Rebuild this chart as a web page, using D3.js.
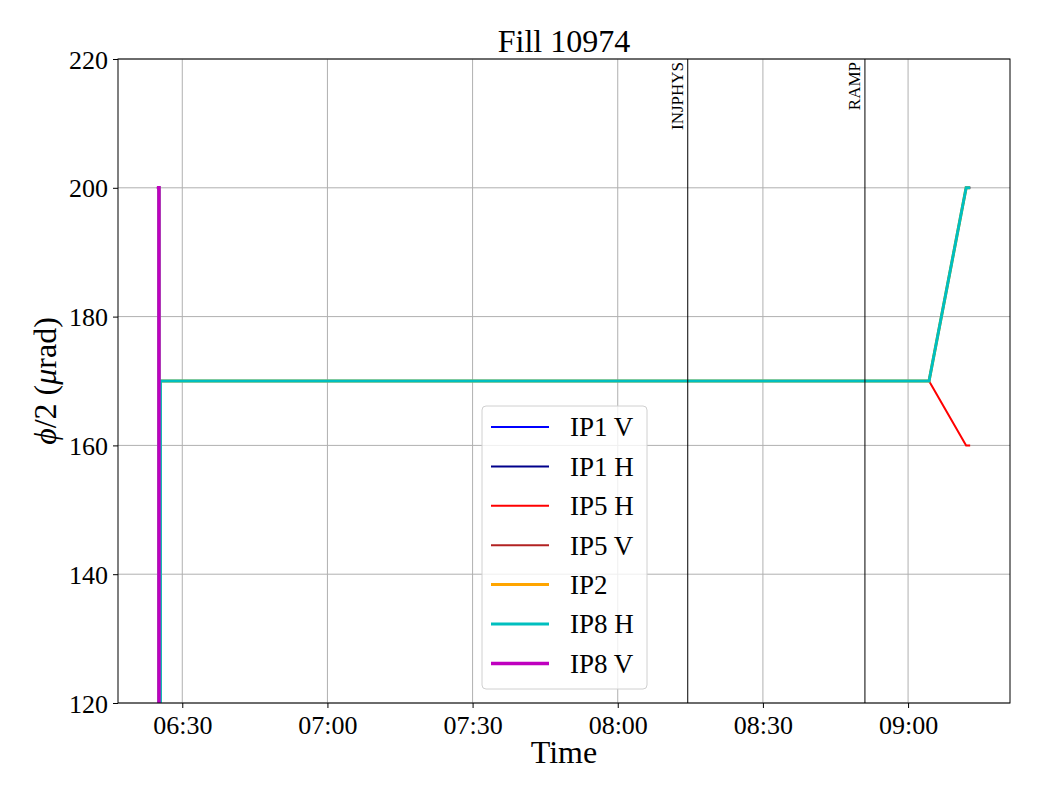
<!DOCTYPE html>
<html>
<head>
<meta charset="utf-8">
<script src="https://cdn.jsdelivr.net/npm/d3@7"></script>
<style>
  body { margin: 0; background: #fff; }
  svg text { font-family: "Liberation Serif", "Times New Roman", Times, serif; }
</style>
</head>
<body>
<div id="chart"></div>
<script>
// data
const times = ['06:24:46', '06:25:11', '06:25:11', '06:25:29', '06:25:29', '09:04:20', '09:12:00', '09:12:50']
const ip1V = [200, 200, 100, 100, 170, 170, 200, 200]
const ip1H = [200, 200, 100, 100, 170, 170, 200, 200]
const ip5H = [200, 200, 100, 100, 170, 170, 160, 160]
const ip5V = [200, 200, 100, 100, 170, 170, 200, 200]
const ip2 = [200, 200, 100, 100, 170, 170, 200, 200]
const ip8H = [200, 200, 100, 100, 170, 170, 200, 200]
const ip8V = [200, 200, 100, 100, 100, 100, 100, 100]

const seriesNames = ['IP1 V', 'IP1 H', 'IP5 H', 'IP5 V', 'IP2', 'IP8 H', 'IP8 V']
const seriesValues = [ip1V, ip1H, ip5H, ip5V, ip2, ip8H, ip8V]
const seriesColors = ['#0000ff', '#00008b', '#ff0000', '#b22222', '#ffa500', '#00bfbf', '#bf00bf']
const seriesWidths = [2, 2, 2, 2, 3, 3, 3.5]

const modeNames = ['INJPHYS', 'RAMP']
const modeTimes = ['08:14:28', '08:51:05']

const xDomain = ['06:16:43', '09:21:04']
const yDomain = [120, 220]
const yTicks = [120, 140, 160, 180, 200, 220]

const W = 1040, H = 800
const m = { left: 118, right: 1010, top: 59, bottom: 703 }
const parse = d3.timeParse('%H:%M:%S')
const FONT = '"Liberation Serif", "Times New Roman", Times, serif'

const x = d3.scaleTime().domain(xDomain.map(parse)).range([m.left, m.right])
const y = d3.scaleLinear().domain(yDomain).range([m.bottom, m.top])

const svg = d3.select('#chart').append('svg')
  .attr('width', W)
  .attr('height', H)
  .attr('font-family', FONT)

svg.append('defs').append('clipPath').attr('id', 'clip')
  .append('rect')
  .attr('x', m.left).attr('y', m.top)
  .attr('width', m.right - m.left).attr('height', m.bottom - m.top)

// grid
const xTicks = x.ticks(d3.timeMinute.every(30))
svg.append('g').selectAll('line').data(xTicks).join('line')
  .attr('x1', d => x(d)).attr('x2', d => x(d))
  .attr('y1', m.top).attr('y2', m.bottom)
  .attr('stroke', '#b0b0b0').attr('stroke-width', 1)
svg.append('g').selectAll('line').data(yTicks).join('line')
  .attr('x1', m.left).attr('x2', m.right)
  .attr('y1', d => y(d)).attr('y2', d => y(d))
  .attr('stroke', '#b0b0b0').attr('stroke-width', 1)

// series
const line = d3.line()
  .x((d, i) => x(parse(times[i])))
  .y(d => y(d))

const plot = svg.append('g').attr('clip-path', 'url(#clip)')
seriesValues.forEach((vals, i) => {
  plot.append('path')
    .datum(vals)
    .attr('d', line)
    .attr('fill', 'none')
    .attr('stroke', seriesColors[i])
    .attr('stroke-width', seriesWidths[i])
})

// beam mode markers
modeTimes.forEach((t, i) => {
  const px = x(parse(t))
  svg.append('line')
    .attr('x1', px).attr('x2', px)
    .attr('y1', m.top).attr('y2', m.bottom)
    .attr('stroke', '#000').attr('stroke-width', 1)
  svg.append('text')
    .attr('transform', `translate(${px - 5}, ${m.top + 3}) rotate(-90)`)
    .attr('text-anchor', 'end')
    .attr('font-size', 17)
    .text(modeNames[i])
})

// axes
const xAxis = svg.append('g')
  .attr('transform', `translate(0, ${m.bottom})`)
  .call(d3.axisBottom(x).tickValues(xTicks).tickFormat(d3.timeFormat('%H:%M')).tickSize(5).tickPadding(4))
const yAxis = svg.append('g')
  .attr('transform', `translate(${m.left}, 0)`)
  .call(d3.axisLeft(y).tickValues(yTicks).tickSize(5).tickPadding(5))
;[xAxis, yAxis].forEach(a => {
  a.attr('font-family', FONT).attr('font-size', 26)
  a.select('.domain').remove()
  a.selectAll('text').attr('fill', '#000')
  a.selectAll('line').attr('stroke', '#000')
})
xAxis.selectAll('text').attr('dy', '0.85em')
yAxis.selectAll('text').attr('dy', '0.35em')

svg.append('rect')
  .attr('x', m.left).attr('y', m.top)
  .attr('width', m.right - m.left).attr('height', m.bottom - m.top)
  .attr('fill', 'none').attr('stroke', '#000').attr('stroke-width', 1)

// labels
svg.append('text')
  .attr('x', (m.left + m.right) / 2).attr('y', 52)
  .attr('text-anchor', 'middle').attr('font-size', 32)
  .text('Fill 10974')
svg.append('text')
  .attr('x', (m.left + m.right) / 2).attr('y', 763)
  .attr('text-anchor', 'middle').attr('font-size', 32)
  .text('Time')
const yl = svg.append('text')
  .attr('transform', `translate(56, ${(m.top + m.bottom) / 2}) rotate(-90)`)
  .attr('text-anchor', 'middle').attr('font-size', 32)
yl.append('tspan').attr('font-style', 'italic').text('ϕ')
yl.append('tspan').text('/2 (')
yl.append('tspan').attr('font-style', 'italic').text('μ')
yl.append('tspan').text('rad)')

// legend
const lg = svg.append('g').attr('transform', 'translate(482, 406)')
lg.append('rect')
  .attr('width', 165).attr('height', 283)
  .attr('rx', 4)
  .attr('fill', '#fff').attr('fill-opacity', 0.8)
  .attr('stroke', '#d0d0d0')
seriesNames.forEach((name, i) => {
  const ly = 21 + i * 39.4
  lg.append('line')
    .attr('x1', 9).attr('x2', 67)
    .attr('y1', ly).attr('y2', ly)
    .attr('stroke', seriesColors[i])
    .attr('stroke-width', seriesWidths[i])
  lg.append('text')
    .attr('x', 88).attr('y', ly)
    .attr('dy', '0.35em')
    .attr('font-size', 27)
    .text(name)
})
</script>
</body>
</html>
